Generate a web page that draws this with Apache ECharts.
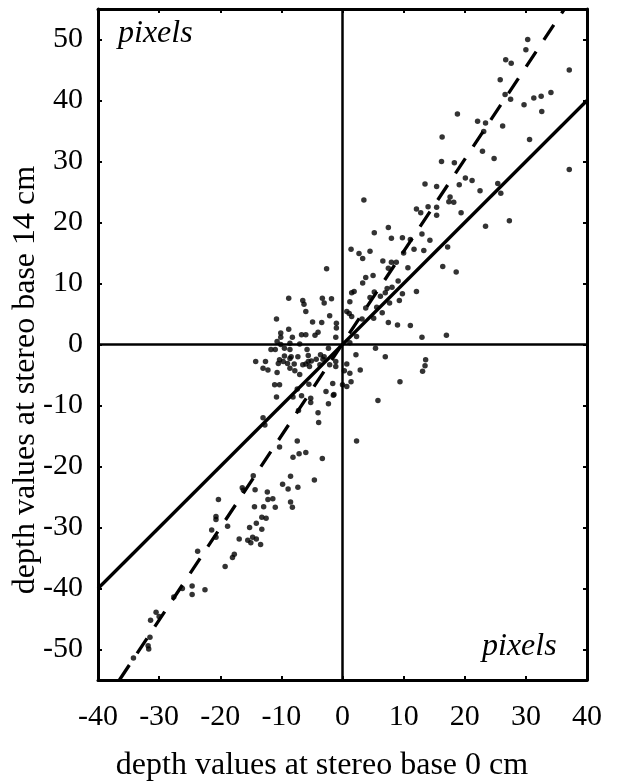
<!DOCTYPE html>
<html>
<head>
<meta charset="utf-8">
<script src="https://cdn.jsdelivr.net/npm/echarts@6/dist/echarts.min.js"></script>
<style>
  html, body { margin: 0; padding: 0; background: #fff; }
  #chart { width: 617px; height: 781px; }
</style>
</head>
<body>
<div id="chart"></div>
<script>
// depth values at base 0 cm (x) vs base 14 cm (y)
var points = [
	[30.3,50.0],[30.0,48.3],[26.7,46.7],[27.6,46.1],[37.1,45.0],[25.8,43.4],[26.6,41.0],[27.5,40.2],
	[29.7,39.3],[31.3,40.4],[32.5,40.7],[34.1,41.3],[32.6,38.2],[18.8,37.8],[22.1,36.6],[23.4,36.3],
	[26.2,35.8],[23.1,34.9],[16.3,34.0],[30.6,33.6],[22.9,31.7],[24.8,30.5],[16.2,30.0],[18.3,29.8],
	[37.1,28.7],[13.5,26.3],[15.4,25.9],[19.1,26.2],[20.1,27.3],[21.2,26.9],[22.5,25.2],[25.4,26.4],
	[25.9,24.8],[17.6,24.2],[3.5,23.7],[17.4,23.4],[18.2,23.3],[19.4,21.6],[23.4,19.4],[27.3,20.3],
	[17.2,16.0],[18.6,11.9],
	[12.1,22.2],[14.0,22.6],[15.4,22.5],[12.8,21.6],[15.4,21.2],[7.5,19.2],[5.2,18.3],[8.0,17.4],
	[9.8,17.5],[11.1,17.2],[13.0,18.1],[14.3,17.1],[11.7,15.6],[13.3,15.4],[10.0,15.0],[1.4,15.6],
	[2.7,14.9],[3.3,14.1],[4.5,15.3],[16.4,12.8],[6.6,13.7],[8.0,13.5],[8.8,13.5],[10.7,12.6],
	[7.5,12.5],[-2.6,12.4],[5.0,11.3],[3.8,11.0],[3.3,10.1],[9.1,10.4],[1.9,8.7],[1.5,8.5],
	[5.2,8.6],[7.3,9.2],[8.1,9.4],[7.0,8.5],[9.8,8.3],[12.1,8.7],[-8.8,7.6],[-6.5,7.2],
	[-6.3,6.6],[-3.3,7.6],[-3.0,6.8],[-1.8,7.5],[1.2,7.0],[4.5,7.7],[6.2,7.9],[7.7,6.8],
	[9.3,7.2],[3.8,6.0],[5.6,6.1],[-6.0,5.4],[-2.1,4.7],[0.7,5.4],[1.1,5.1],[1.5,4.6],
	[6.5,5.2],[5.1,4.3],[-10.8,4.2],[-4.9,3.7],[-3.4,3.6],[-1.0,3.5],[-1.0,2.7],[3.2,4.2],
	[7.5,3.6],[9.0,3.2],[11.1,3.1],[-8.8,2.5],[-10.1,1.9],[-10.1,1.2],[-8.2,1.2],[-6.7,1.6],
	[-6.0,1.6],[-4.5,1.5],[-4.0,2.0],[-1.1,1.2],[2.3,1.3],[13.0,1.2],[17.0,1.5],[-10.7,0.5],
	[-10.1,0.0],[-8.6,0.2],[-7.0,0.1],[1.2,0.3],[-11.7,-0.8],[-11.0,-0.8],[-9.5,-0.6],[-8.6,-0.8],
	[-5.8,-0.8],[-2.3,-0.6],[5.4,-0.6],[-9.5,-1.9],[-8.4,-2.0],[-7.3,-2.0],[-5.6,-1.8],[-3.6,-1.7],
	[-3.0,-2.0],[2.2,-1.7],[7.0,-2.0],[-10.3,-2.5],[-10.5,-3.1],[-14.2,-2.8],[-12.6,-2.8],[-9.0,-3.1],
	[-7.9,-3.2],[-6.0,-3.2],[-5.6,-2.8],[-4.3,-2.4],[-1.1,-2.8],[0.7,-3.2],[13.6,-2.5],[13.5,-3.5],
	[-13.0,-3.9],[-12.2,-4.2],[-10.7,-4.6],[-8.6,-3.9],[-7.8,-4.3],[-7.0,-4.9],[2.9,-4.2],[13.1,-4.4],
	[9.4,-6.1],[-6.5,-3.3],[-5.4,-3.6],[-3.7,-3.3],[-2.1,-3.3],[-1.1,-3.6],[1.2,-4.7],[0.3,-4.3],
	[-8.6,-2.3],[-9.7,-2.8],[-5.1,-2.7],[-3.2,-2.4],
	[0.0,-6.6],[0.7,-6.9],[-1.4,-8.2],[5.8,-9.2],[2.3,-15.8],
	[-11.1,-6.6],[-10.3,-6.6],[-7.4,-7.3],[-5.5,-6.5],[-1.6,-6.4],[1.4,-6.1],[-10.8,-8.6],[-8.1,-8.6],
	[-6.7,-8.4],[-5.2,-8.8],[-5.2,-9.5],[-2.7,-7.7],[-1.5,-8.3],[-2.3,-9.7],[-7.2,-10.8],[-4.0,-11.2],
	[-3.9,-12.8],[-13.0,-12.0],[-12.7,-13.2],[-10.3,-16.8],[-7.4,-15.8],[-8.1,-18.5],[-7.1,-17.9],[-6.0,-17.7],
	[-3.3,-18.7],[-14.6,-21.5],[-8.5,-21.6],[-4.6,-22.2],[-9.8,-22.9],[-8.9,-23.7],[-7.3,-23.4],[-16.4,-23.5],
	[-16.2,-23.9],[-14.3,-23.8],[-12.3,-24.2],[-20.3,-25.4],[-12.2,-25.4],[-11.4,-25.3],[-14.4,-26.6],[-12.9,-26.6],
	[-11.0,-26.7],[-8.5,-25.8],[-8.2,-26.7],[-20.7,-28.2],[-20.7,-28.7],[-13.2,-28.3],[-12.5,-28.5],[-18.8,-29.8],
	[-15.2,-30.0],[-14.1,-29.3],[-13.2,-30.3],[-21.4,-30.4],[-20.7,-31.6],[-16.9,-31.9],[-15.5,-32.1],[-14.7,-31.6],
	[-14.1,-31.9],[-15.0,-32.5],[-13.4,-32.8],[-23.7,-33.9],[-17.7,-34.4],[-18.0,-34.9],[-19.2,-36.4],[-24.6,-39.6],
	[-24.6,-41.0],[-26.2,-40.0],[-22.5,-40.2],[-27.6,-41.4],[-30.5,-43.9],[-30.0,-44.6],[-31.4,-45.2],[-31.5,-48.0],
	[-31.8,-49.4],[-31.7,-49.9],[-34.2,-51.4]
];
// y = x
var solidFit = [[-40,-40],[40,40]];
// steeper dashed fit
var dashedFit = [[-36.5,-55],[36.3,55]];
var xTicks = [-40,-30,-20,-10,0,10,20,30,40];
var yTicks = [-50,-40,-30,-20,-10,0,10,20,30,40,50];

var serif = 'Liberation Serif';
var chart = echarts.init(document.getElementById('chart'));

var frameLine = { show: true, onZero: false, lineStyle: { color: '#000', width: 3 } };
var inTick = { show: true, inside: true, length: 4, lineStyle: { color: '#000', width: 2 } };

option = {
	animation: false,
	backgroundColor: '#fff',
	grid: { left: 98, right: 30, top: 9, bottom: 101 },
	xAxis: [
		{
			type: 'value', min: -40, max: 40, interval: 10, position: 'bottom',
			axisLine: frameLine, axisTick: inTick, splitLine: { show: false },
			axisLabel: { color: '#000', fontFamily: serif, fontSize: 30, margin: 22, customValues: xTicks }
		},
		{
			type: 'value', min: -40, max: 40, interval: 10, position: 'top',
			axisLine: frameLine, axisTick: inTick, splitLine: { show: false },
			axisLabel: { show: false }
		}
	],
	yAxis: [
		{
			type: 'value', min: -55, max: 55, position: 'left',
			axisLine: frameLine, splitLine: { show: false },
			axisTick: { show: true, inside: true, length: 4, lineStyle: { color: '#000', width: 2 }, customValues: yTicks },
			axisLabel: { color: '#000', fontFamily: serif, fontSize: 30, margin: 15, customValues: yTicks }
		},
		{
			type: 'value', min: -55, max: 55, position: 'right',
			axisLine: frameLine, splitLine: { show: false },
			axisTick: { show: true, inside: true, length: 4, lineStyle: { color: '#000', width: 2 }, customValues: yTicks },
			axisLabel: { show: false }
		}
	],
	graphic: [
		{ type: 'text', left: 118, top: 18, style: { text: 'pixels', font: 'italic 32px "Liberation Serif"', fill: '#000' } },
		{ type: 'text', left: 482, top: 631, style: { text: 'pixels', font: 'italic 32px "Liberation Serif"', fill: '#000' } },
		{ type: 'text', x: 322, y: 766, style: { text: 'depth values at stereo base 0 cm', font: '32px "Liberation Serif"', fill: '#000', align: 'center', verticalAlign: 'middle' } },
		{ type: 'text', x: 26, y: 380, rotation: Math.PI / 2, style: { text: 'depth values at stereo base 14 cm', font: '32px "Liberation Serif"', fill: '#000', align: 'center', verticalAlign: 'middle' } }
	],
	series: [
		{
			type: 'scatter',
			data: points,
			symbol: 'circle',
			symbolSize: 5.5,
			itemStyle: { color: '#000' },
			markLine: {
				silent: true, symbol: 'none', label: { show: false },
				lineStyle: { color: '#000', width: 2.5, type: 'solid' },
				data: [{ xAxis: 0 }, { yAxis: 0 }]
			},
			z: 3
		},
		{
			type: 'line', data: solidFit, showSymbol: false, symbol: 'none',
			lineStyle: { color: '#000', width: 3.3 }, z: 2
		},
		{
			type: 'line', data: dashedFit, showSymbol: false, symbol: 'none',
			lineStyle: { color: '#000', width: 3.3, type: [18, 14] }, z: 2
		}
	]
};
chart.setOption(option);
</script>
</body>
</html>
